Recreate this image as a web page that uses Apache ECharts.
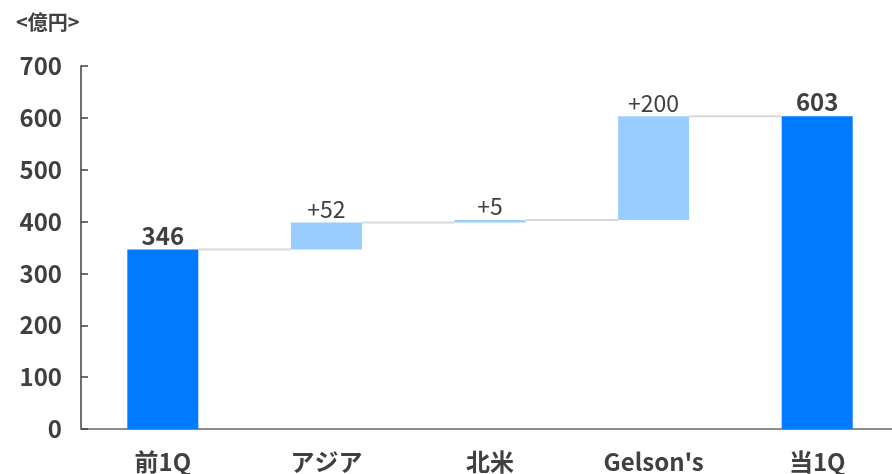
<!DOCTYPE html>
<html><head><meta charset="utf-8">
<script src="https://cdn.jsdelivr.net/npm/echarts@6/dist/echarts.min.js"></script>
<style>html,body{margin:0;padding:0;background:#fff;overflow:hidden;width:892px;height:474px}#c{width:899px;height:474px}</style>
</head><body><div id="c"></div>
<script>
const categories = ['前1Q', 'アジア', '北米', "Gelson's", '当1Q'];
const values = [346, 52, 5, 200, 603];
const isTotal = [true, false, false, false, true];
const yTicks = [0, 100, 200, 300, 400, 500, 600, 700];

const FONT = '"Noto Sans CJK JP", "Noto Sans", sans-serif';
const TXT = '#404040';

// cumulative bases
const bases = [];
const tops = [];
let run = 0;
values.forEach((v, i) => {
  if (isTotal[i]) { bases.push(0); tops.push(v); run = v; }
  else { bases.push(run); run += v; tops.push(run); }
});
const connectors = tops.slice(0, -1).map((t, i) => [i, t]);
const BAR_W = 71;

const chart = echarts.init(document.getElementById('c'), null, {renderer: 'canvas'});
chart.setOption({
  animation: false,
  backgroundColor: '#fff',
  title: {
    text: '<億円>', left: 11, top: 7,
    textStyle: {fontFamily: FONT, fontWeight: 'bold', fontSize: 20, color: TXT}
  },
  grid: {left: 81, right: 0, top: 66, bottom: 45, containLabel: false},
  xAxis: {
    type: 'category', data: categories,
    axisLine: {show: true, lineStyle: {color: '#8c8c8c', width: 2}},
    axisTick: {show: false},
    axisLabel: {fontFamily: FONT, fontWeight: 'bold', fontSize: 24, color: TXT, margin: 21}
  },
  yAxis: {
    type: 'value', min: yTicks[0], max: yTicks[yTicks.length - 1], interval: 100,
    axisLine: {show: true, lineStyle: {color: '#404040', width: 1.5}},
    axisTick: {show: true, inside: true, length: 7, lineStyle: {color: '#404040', width: 1.5}},
    splitLine: {show: false},
    axisLabel: {fontFamily: FONT, fontWeight: 'bold', fontSize: 24, color: TXT, margin: 19}
  },
  series: [
    {
      type: 'bar', stack: 'w', barWidth: BAR_W, silent: true,
      itemStyle: {color: 'transparent'},
      data: bases
    },
    {
      type: 'bar', stack: 'w', barWidth: BAR_W,
      data: values.map((v, i) => ({
        value: v,
        itemStyle: {color: isTotal[i] ? '#007bff' : '#99ccff'},
        label: {
          show: true, position: 'top', distance: 2,
          formatter: isTotal[i] ? String(v) : '+' + v,
          fontFamily: FONT, color: TXT,
          fontWeight: isTotal[i] ? 'bold' : 'normal',
          fontSize: isTotal[i] ? 24 : 23
        }
      }))
    },
    {
      type: 'custom', z: 1,
      data: connectors,
      renderItem: function (params, api) {
        const i = api.value(0), lvl = api.value(1);
        const p1 = api.coord([i, lvl]);
        const p2 = api.coord([i + 1, lvl]);
        return {
          type: 'line',
          shape: {x1: p1[0] + BAR_W / 2, y1: p1[1], x2: p2[0] - BAR_W / 2, y2: p1[1]},
          style: {stroke: '#d9d9d9', lineWidth: 2}
        };
      }
    }
  ]
});
</script></body></html>
